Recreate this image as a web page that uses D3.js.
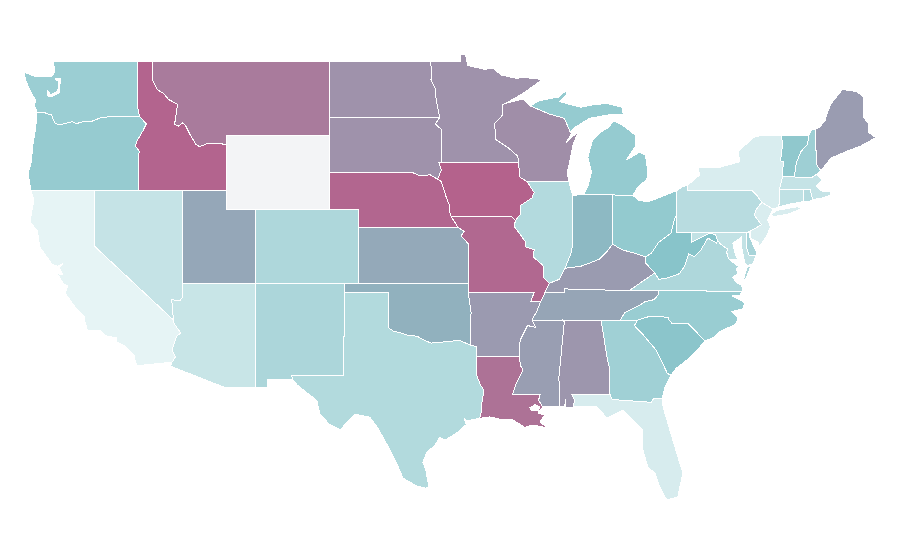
<!DOCTYPE html>
<html>
<head>
<meta charset="utf-8">
<style>
  html, body { margin: 0; background: #fff; }
  svg { display: block; }
</style>
<script src="https://cdn.jsdelivr.net/npm/d3@7"></script>
</head>
<body>
<svg id="map" width="900" height="560"></svg>
<script>
// shared borders, lon/lat
const columbia = [[-123.9,46.25],[-123.75,46.2],[-123.4,46.22],[-123.2,46.15],[-122.9,46.08],[-122.8,45.85],[-122.65,45.62],[-122.3,45.55],[-122,45.62],[-121.5,45.72],[-121.2,45.62],[-120.65,45.74],[-120.2,45.73],[-119.6,45.92],[-119.3,45.93],[-118.98,46],[-116.92,45.99]];
const snake = [[-116.92,45.99],[-116.67,45.78],[-116.47,45.6],[-116.68,45.25],[-116.85,45.02],[-117.05,44.75],[-117.22,44.42],[-117.05,44.23],[-116.93,44.1],[-117.03,43.83]];
const idMt = [[-116.05,47.98],[-115.72,47.45],[-115.3,47.25],[-114.95,46.92],[-114.35,46.65],[-114.55,45.57],[-114.3,45.47],[-114,45.65],[-113.8,45.5],[-113.45,44.95],[-113.1,44.5],[-112.85,44.37],[-112.3,44.55],[-111.5,44.55],[-111.05,44.47]];
const caAz = [[-114.63,35],[-114.57,34.8],[-114.14,34.3],[-114.43,34.1],[-114.72,33.4],[-114.5,33],[-114.72,32.72]];
const nvAz = [[-114.04,36.2],[-114.2,36.03],[-114.74,36.1],[-114.63,35]];
const redRiver = [[-100,34.56],[-99.7,34.4],[-99.2,34.3],[-98.6,34.15],[-98.1,34.13],[-97.7,33.95],[-97.15,33.75],[-96.5,33.8],[-95.8,33.85],[-95.2,33.9],[-94.48,33.64]];
const txLa = [[-94.04,31.99],[-93.8,31.5],[-93.55,31.2],[-93.7,30.5],[-93.72,30.1],[-93.84,29.69]];
const ndMn = [[-97.23,49],[-97.1,48.6],[-97.15,48],[-96.85,47.5],[-96.8,46.9],[-96.56,45.94]];
const sdMn = [[-96.56,45.94],[-96.85,45.6],[-96.45,45.3],[-96.45,43.5]];
const sdIa = [[-96.45,43.5],[-96.6,43.5],[-96.45,43.1],[-96.7,42.6],[-96.45,42.49]];
const neSd = [[-98.5,43],[-97.9,42.8],[-97.2,42.85],[-96.7,42.6],[-96.45,42.49]];
const neIa = [[-96.45,42.49],[-96.25,42],[-96.1,41.6],[-95.9,41.2],[-95.85,40.7],[-95.77,40.58]];
const moKs = [[-95.77,40.58],[-95.31,40],[-94.9,39.8],[-95.1,39.55],[-94.6,39.1],[-94.62,37]];
const mnWi = [[-92.05,46.72],[-92.3,46.65],[-92.29,46.08],[-92.85,45.6],[-92.75,45],[-92.75,44.75],[-91.9,44.3],[-91.25,43.85],[-91.22,43.5]];
const iaWi = [[-91.22,43.5],[-91.1,42.7],[-90.65,42.5]];
const iaIl = [[-90.65,42.5],[-90.15,41.9],[-90.3,41.6],[-91.05,41.2],[-91.1,40.7],[-91.42,40.38]];
const ilMo = [[-91.42,40.38],[-91.5,40.05],[-90.75,39.25],[-90.7,38.95],[-90.15,38.8],[-90.2,38.4],[-89.55,37.95],[-89.5,37.3],[-89.13,36.98]];
const arMs = [[-90.3,35],[-90.05,34.6],[-90.6,34.7],[-91.1,33.9],[-91.17,33]];
const laMs = [[-91.17,33],[-91.05,32.5],[-90.9,32.3],[-91.35,31.6],[-91.6,31],[-89.73,31],[-89.85,30.67],[-89.56,30.3]];
const wiUp = [[-90.42,46.57],[-89.1,46.13],[-88.1,45.9],[-87.8,45.35],[-87.6,45.1]];
const ohRiverIlKy = [[-89.13,36.98],[-88.45,37.2],[-88.05,37.8]];
const ilIn = [[-87.52,41.7],[-87.53,39.35],[-87.6,38.7],[-88.05,37.8]];
const inKy = [[-88.05,37.8],[-87,37.9],[-86.3,38.1],[-85.7,38.3],[-85.2,38.7],[-84.82,39.1]];
const ohKy = [[-84.82,39.1],[-84.2,38.8],[-83.3,38.6],[-82.6,38.42]];
const ohWv = [[-82.6,38.42],[-82.2,38.6],[-81.7,39.2],[-80.85,39.7],[-80.65,40.4],[-80.52,40.64]];
const kyWv = [[-82.6,38.42],[-82.6,38.1],[-81.97,37.54]];
const kyVa = [[-81.97,37.54],[-83.68,36.6]];
const kyTn = [[-83.68,36.6],[-86,36.63],[-88.07,36.68],[-88.07,36.5],[-89.4,36.5]];
const tnNc = [[-81.68,36.59],[-81.7,36.4],[-82,36.1],[-82.6,36],[-83.1,35.75],[-84,35.4],[-84.3,35]];
const ncSc = [[-83.11,35],[-82.3,35.2],[-81.05,35.15],[-81.05,35.05],[-80.8,34.82],[-79.68,34.8],[-78.55,33.86]];
const gaSc = [[-83.11,35],[-83.35,34.7],[-82.75,34.2],[-81.9,33.4],[-81.4,32.6],[-81.1,32.1],[-80.85,32.03]];
const alGa = [[-85.6,34.98],[-85.18,32.87],[-85,32.3],[-85.05,31.55],[-85,31]];
const vaWv = [[-81.97,37.54],[-81.68,37.2],[-81.2,37.25],[-80.3,37.5],[-79.95,37.9],[-79.65,38.58],[-79.3,38.42],[-78.85,38.76],[-78.36,39.43],[-77.75,39.15],[-77.72,39.32]];
const vaMd = [[-77.72,39.32],[-77.5,39.1],[-77.05,38.85],[-77.07,38.62],[-76.95,38.3]];
const mdWv = [[-79.48,39.72],[-79.48,39.2],[-78.2,39.7],[-77.83,39.6],[-77.72,39.32]];
const paNj = [[-74.7,41.36],[-75.1,40.95],[-75.2,40.65],[-74.72,40.15],[-75.5,39.8]];
const paNy = [[-79.76,42],[-75.35,42],[-75.05,41.75],[-74.7,41.36]];
const nyNe = [[-73.35,45],[-73.3,44.4],[-73.43,43.6],[-73.25,43.55],[-73.28,42.75]];
const vtNh = [[-71.5,45],[-71.6,44.5],[-72.05,44.1],[-72.35,43.5],[-72.5,42.73]];
const rev = a => a.slice().reverse();

// one entry per state, same order in all three lists
const stateNames = ["Washington","Oregon","California","Nevada","Idaho","Montana","Wyoming","Utah","Arizona","Colorado","New Mexico","North Dakota","South Dakota","Nebraska","Kansas","Oklahoma","Texas","Minnesota","Iowa","Missouri","Arkansas","Louisiana","Wisconsin","Illinois","Michigan","Indiana","Ohio","Kentucky","Tennessee","Mississippi","Alabama","Georgia","Florida","South Carolina","North Carolina","Virginia","West Virginia","Maryland","Delaware","Pennsylvania","New Jersey","New York","Connecticut","Rhode Island","Massachusetts","Vermont","New Hampshire","Maine"];
const stateValues = [0.4,0.425,0,0.175,0.98,0.865,null,0.645,0.16,0.3,0.31,0.75,0.75,0.97,0.635,0.595,0.275,0.75,0.99,0.96,0.71,0.91,0.77,0.27,0.43,0.555,0.44,0.705,0.655,0.69,0.73,0.37,0.08,0.485,0.41,0.3,0.5,0.19,0.33,0.245,0.07,0.07,0.2,0.26,0.175,0.46,0.385,0.7];
// extra rings cut holes (fill-rule evenodd): Puget Sound, Lake Pontchartrain
const stateShapes = [
  [[[-122.76,49],[-117.03,49],[-117.04,46.42],...rev(columbia),[-124.07,46.65],[-123.95,46.85],[-124.36,47.4],[-124.68,48],[-124.73,48.38],[-124,48.17],[-123.1,48.15],[-122.85,48.2],[-122.7,48.4]],[[-122.6,48.05],[-122.3,48.03],[-122.37,47.29],[-122.89,47.06],[-123.15,47.11],[-123.15,47.38],[-123.08,47.36],[-123.02,47.16],[-122.47,47.36],[-122.42,47.95],[-122.6,47.97]]],
  [[...columbia,...snake,[-117.03,42],[-124.3,42],[-124.5,42.95],[-124.3,43.4],[-124.15,44.57],[-124.05,45],[-123.95,45.6],[-123.9,46.05]]],
  [[[-124.3,42],[-120,42],[-120,39],...caAz,[-117.12,32.53],[-117.25,32.85],[-117.3,33.1],[-117.9,33.6],[-118.45,33.8],[-118.5,34.03],[-119.2,34.15],[-119.6,34.42],[-120.47,34.45],[-120.63,34.9],[-120.65,35.15],[-121.3,35.7],[-121.98,36.45],[-121.8,36.85],[-122.1,36.97],[-122.5,37.5],[-122.15,37.45],[-122.4,37.85],[-122.1,38.05],[-122.5,37.9],[-122.85,38],[-123.7,38.95],[-123.85,39.8],[-124.36,40.3],[-124.1,41.5]]],
  [[[-120,42],[-114.04,42],...nvAz,[-120,39]]],
  [[[-117.03,49],[-116.05,49],...idMt,[-111.05,42],[-117.03,42],...rev(snake),[-117.04,46.42]]],
  [[[-116.05,49],[-104.05,49],[-104.05,45],[-111.05,45],...rev(idMt)]],
  [[[-111.05,45],[-104.05,45],[-104.05,41],[-111.05,41]]],
  [[[-114.04,42],[-111.05,42],[-111.05,41],[-109.05,41],[-109.05,37],[-114.04,37]]],
  [[[-114.04,37],[-109.05,37],[-109.05,31.33],[-111.07,31.33],[-114.81,32.5],...rev(caAz),...rev(nvAz)]],
  [[[-109.05,41],[-102.05,41],[-102.05,37],[-109.05,37]]],
  [[[-109.05,37],[-103,37],[-103.04,36.5],[-103.06,32],[-106.62,32],[-106.53,31.78],[-108.21,31.78],[-108.21,31.33],[-109.05,31.33]]],
  [[[-104.05,49],...ndMn,[-104.05,45.94]]],
  [[[-104.05,45.94],...sdMn,...sdIa.slice(1),...rev(neSd).slice(1),[-104.05,43]]],
  [[[-104.05,43],...neSd,...neIa.slice(1),[-95.31,40],[-102.05,40],[-102.05,41],[-104.05,41]]],
  [[[-102.05,40],...moKs.slice(1),[-102.05,37]]],
  [[[-103,37],[-94.62,37],[-94.62,36.5],[-94.43,35.4],...rev(redRiver),[-100,36.5],[-103.04,36.5]]],
  [[[-103.04,36.5],[-100,36.5],...redRiver,[-94.04,33.55],[-94.04,33.02],...txLa,[-94.7,29.55],[-94.9,29.7],[-94.75,29.35],[-95.3,28.95],[-96.2,28.5],[-96.55,28.67],[-96.9,28.2],[-97.4,27.9],[-97.7,27.3],[-97.5,26.9],[-97.3,26],[-97.5,25.9],[-98.2,26.05],[-98.6,26.25],[-99.05,26.45],[-99.5,27.3],[-99.95,28],[-100.75,29.15],[-101.3,29.75],[-102.3,29.9],[-102.85,29.5],[-103.3,29.05],[-104.1,29.4],[-104.7,29.95],[-104.9,30.65],[-106.25,31.5],[-106.53,31.78],[-106.62,32],[-103.06,32]]],
  [[[-97.23,49],[-95.15,49],[-95.15,49.38],[-94.8,49.33],[-94.65,48.75],[-93.5,48.55],[-92.95,48.62],[-92.4,48.25],[-91.4,48.07],[-90.75,48.1],[-89.6,48],[-90.8,47.3],...mnWi,...rev(sdMn),...rev(ndMn).slice(1)]],
  [[[-96.45,43.5],[-91.22,43.5],...iaWi.slice(1),...iaIl.slice(1),[-91.7,40.6],[-95.77,40.58],...rev(neIa).slice(1),...rev(sdIa).slice(1)]],
  [[[-95.77,40.58],[-91.7,40.6],...ilMo,[-89.4,36.5],[-89.7,36],[-90.37,36],[-90.15,36.5],[-94.62,36.5],...rev(moKs)]],
  [[[-94.62,36.5],[-90.15,36.5],[-90.37,36],[-89.7,36],[-89.95,35.5],...arMs,[-94.04,33.02],[-94.04,33.55],[-94.48,33.64],[-94.43,35.4]]],
  [[[-94.04,33.02],...laMs,[-89.9,29.97],[-89.42,29.86],[-89.76,29.49],[-89.22,29.16],[-90.24,29.32],[-90.78,29.2],[-91.6,29.6],[-92.27,29.6],[-93.15,29.76],...rev(txLa)],[[-90.45,30.25],[-90.1,30.42],[-89.75,30.3],[-89.85,30.12],[-90.3,30.08]]],
  [[[-92.05,46.72],[-90.9,46.95],[-90.42,46.57],...wiUp.slice(1),[-88,44.55],[-87.1,45.25],[-87.5,44.5],[-87.75,43.5],[-87.9,43],[-87.8,42.49],[-90.65,42.5],...rev(iaWi).slice(1),...rev(mnWi).slice(1)]],
  [[[-90.65,42.5],[-87.8,42.49],...ilIn,...rev(ohRiverIlKy).slice(1),...rev(ilMo).slice(1),...rev(iaIl).slice(1)]],
  [[[-84.8,41.76],[-83.45,41.73],[-83.1,42.2],[-82.5,42.6],[-82.42,43],[-82.6,43.9],[-83,44.07],[-83.35,43.9],[-83.9,43.65],[-83.3,44.35],[-83.3,45],[-84.1,45.5],[-84.75,45.78],[-85.1,45.4],[-85.55,45.2],[-86.2,44.7],[-86.5,43.8],[-86.25,43],[-86.5,42.2],[-86.82,41.76]],[[-90.42,46.57],[-89.8,46.85],[-88.9,47],[-88.5,47.05],[-87.9,47.45],[-87.95,47.2],[-88.4,46.8],[-87,46.5],[-86,46.65],[-85.2,46.7],[-84.2,46.5],[-84.1,46.1],[-85,46.1],[-86.4,45.9],[-87.4,45.4],[-87.7,45.15],...rev(wiUp).slice(1)],[[-89.1,47.9],[-88.5,48.15],[-88.6,48.15],[-89.15,47.95]]],
  [[[-87.52,41.7],[-87.2,41.76],[-84.8,41.76],...rev(inKy),...rev(ilIn).slice(1)]],
  [[[-84.8,41.76],[-83.45,41.73],[-83,41.45],[-82.4,41.4],[-81.7,41.6],[-80.52,41.98],...rev(ohWv),...rev(ohKy).slice(1)]],
  [[...ohKy,...kyWv.slice(1),...kyVa.slice(1),...kyTn.slice(1),[-89.13,36.98],...ohRiverIlKy.slice(1),...inKy.slice(1)]],
  [[[-89.4,36.5],...rev(kyTn).slice(1),[-81.68,36.59],...tnNc.slice(1),[-85.6,34.98],[-88.2,35],[-90.3,35],[-89.95,35.5],[-89.7,36]]],
  [[[-90.3,35],[-88.2,35],[-88.1,34.9],[-88.47,31.9],[-88.4,30.3],[-89.56,30.3],...rev(laMs).slice(1),...rev(arMs).slice(1)]],
  [[[-88.2,35],[-85.6,34.98],...alGa.slice(1),[-87.6,31],[-87.4,30.65],[-87.5,30.3],[-88,30.25],[-88,30.7],[-88.1,30.3],[-88.4,30.3],[-88.47,31.9],[-88.1,34.9]]],
  [[[-85.6,34.98],[-84.3,35],[-83.11,35],...gaSc.slice(1),[-81.3,31.3],[-81.45,30.75],[-82.05,30.75],[-82.2,30.55],[-84.86,30.7],[-85,31],...rev(alGa).slice(1)]],
  [[[-87.6,31],[-85,31],[-84.86,30.7],[-82.2,30.55],[-82.05,30.75],[-81.45,30.75],[-81.4,30.3],[-80.8,28.68],[-80.06,26.73],[-80.4,25.43],[-81.15,25.27],[-81.62,25.97],[-81.96,26.73],[-82.43,27.05],[-82.77,27.97],[-82.77,29.05],[-84.13,30.14],[-85.2,29.7],[-85.9,30.3],[-87.5,30.3],[-87.4,30.65]]],
  [[...ncSc,[-79.4,33.1],[-80,32.7],[-80.5,32.4],...rev(gaSc)]],
  [[...rev(tnNc),[-76.02,36.55],[-76.2,36.3],[-76.7,36.3],[-76.1,36.05],[-75.85,35.9],[-76,35.6],[-76.75,35.45],[-76.3,35.1],[-76.5,34.75],[-77.5,34.4],[-78,34.05],...rev(ncSc)]],
  [[[-83.68,36.6],[-81.68,36.59],[-76.02,36.55],[-76.05,36.9],[-76.4,37],[-76.65,37.3],[-76.3,37.55],[-76.45,37.7],[-76.3,37.9],...rev(vaMd),...rev(vaWv).slice(1)],[[-75.99,37.1],[-75.65,37.92],[-75.45,37.9],[-75.75,37.3]]],
  [[[-80.52,40.64],[-80.52,39.72],...mdWv,...rev(vaWv).slice(1),...rev(kyWv).slice(1),...ohWv.slice(1)]],
  [[[-79.48,39.72],[-75.75,39.72],[-75.72,38.9],[-75.55,38.48],[-75.1,38.48],[-75.3,38.05],[-75.65,37.95],[-75.85,38.08],[-76.06,38.9],[-76.06,39.49],[-76.67,39.16],[-76.55,38.7],[-76.33,38.24],...rev(vaMd),...rev(mdWv).slice(1)]],
  [[[-75.75,39.76],[-75.6,39.8],[-75.5,39.45],[-75.04,38.62],[-75.1,38.48],[-75.55,38.48],[-75.72,38.9]]],
  [[[-80.52,41.98],[-80.08,42.2],[-79.76,42.27],...paNy,...paNj.slice(1),[-75.75,39.72],[-80.52,39.72]]],
  [[[-74.7,41.36],[-73.95,41],[-74.3,40.4],[-74.1,40.03],[-74.4,39.5],[-74.9,38.93],[-74.95,39.2],[-75.5,39.45],...rev(paNj).slice(0,-1)]],
  [[[-79.76,42.27],[-78.9,42.85],[-79.05,43.27],[-77.5,43.27],[-76.2,43.55],[-76.3,44.1],[-75.3,44.85],[-74.7,45],...nyNe,[-73.5,42.05],[-73.5,41.3],[-73.6,41.1],[-73.95,41],...rev(paNy)],[[-74.05,40.72],[-73.7,40.92],[-72.3,41.12],[-71.95,41.05],[-72.8,40.75],[-73.9,40.58]]],
  [[[-73.5,42.05],[-71.85,42.03],[-71.85,41.4],[-72.9,41.25],[-73.6,41.1],[-73.5,41.3]]],
  [[[-71.85,42.03],[-71.4,42.03],[-71.25,41.5],[-71.5,41.38],[-71.85,41.4]]],
  [[[-73.5,42.05],[-73.28,42.75],[-72.5,42.73],[-71.3,42.7],[-71,42.87],[-70.6,42.6],[-71,42.25],[-70.6,41.95],[-70,41.95],[-70.05,41.75],[-70.6,41.6],[-71.25,41.5],[-71.4,42.03],[-71.85,42.03]]],
  [[[-73.35,45],...vtNh,...rev(nyNe).slice(0,-1)]],
  [[[-71.5,45],[-71.3,45.3],[-71.08,45.3],[-70.98,43.4],[-70.7,43.07],[-71,42.87],[-71.3,42.7],...rev(vtNh).slice(0,-1)]],
  [[[-71.08,45.3],[-70.8,45.4],[-70.4,45.8],[-70.25,46.2],[-70,46.7],[-69.23,47.46],[-69,47.43],[-68.3,47.36],[-67.8,47.07],[-67.78,45.95],[-67.45,45.6],[-67.45,45.15],[-66.97,44.85],[-68,44.4],[-69,44.1],[-70,43.75],[-70.7,43.07],[-70.98,43.4]]]
];

const width = 900;
const height = 560;

// the map is a plain stretch of lon/lat, no spherical projection
const xScale = d3.scaleLinear().domain([-124.7, -66.95]).range([25, 876]);
const yScale = d3.scaleLinear().domain([49, 25]).range([61, 505]);

const colorScale = d3.scaleLinear()
  .domain([0, 0.5, 1])
  .range(["#e6f4f5", "#88c4ca", "#b5608b"]);

const stretch = d3.geoTransform({
  point(x, y) { this.stream.point(xScale(x), yScale(y)); }
});
const path = d3.geoPath(stretch);

// geojson rings have to be closed or d3 drops the last point
const closeRing = ring => [...ring, ring[0]];

const features = stateNames.map((name, i) => ({
  type: "Feature",
  properties: { name, value: stateValues[i] },
  geometry: { type: "MultiPolygon", coordinates: stateShapes[i].map(ring => [closeRing(ring)]) }
}));

d3.select("#map")
  .attr("viewBox", `0 0 ${width} ${height}`)
  .selectAll("path")
  .data(features)
  .join("path")
  .attr("d", path)
  .attr("fill", d => d.properties.value === null ? "#f3f4f6" : colorScale(d.properties.value))
  .attr("fill-rule", "evenodd")
  .attr("stroke", "#fff")
  .attr("stroke-width", 1)
  .attr("shape-rendering", "crispEdges")
  .append("title")
  .text(d => d.properties.name);
</script>
</body>
</html>
